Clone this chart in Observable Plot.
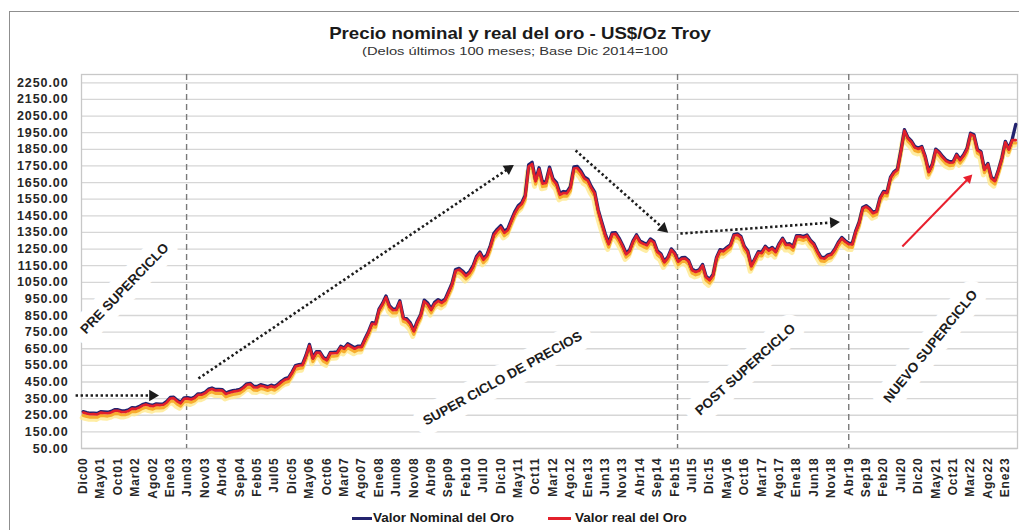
<!DOCTYPE html>
<html>
<head>
<meta charset="utf-8">
<script src="https://cdn.jsdelivr.net/npm/d3@7"></script>
<script src="https://cdn.jsdelivr.net/npm/@observablehq/plot@0.6"></script>
<style>
  body { margin: 0; background: #fff; }
  #wrap { position: relative; width: 1019px; height: 530px; overflow: hidden; background: #fff; font-family: "Liberation Sans", Arial, sans-serif; }
  .frame { position: absolute; left: 9px; top: 11px; width: 1040px; height: 560px; border: 1.5px solid #8f8f8f; }
  .title { position: absolute; left: 520px; top: 23px; transform: translateX(-50%) scaleX(1.08); white-space: nowrap; font-weight: bold; font-size: 17.3px; color: #1a1a1a; }
  .sub { position: absolute; left: 515px; top: 45px; transform: translateX(-50%) scaleX(1.4); white-space: nowrap; font-size: 10.5px; color: #333; }
  #chart { position: absolute; left: 0; top: 0; }
  #chart svg [aria-label^="y-axis"] text { font-family: "Liberation Sans", Arial, sans-serif; font-weight: bold; font-size: 12.5px; letter-spacing: 0.9px; fill: #262626; }
  #chart svg [aria-label^="x-axis"] text { font-family: "Liberation Sans", Arial, sans-serif; font-weight: bold; font-size: 12px; letter-spacing: 0.9px; fill: #262626; }
  .lg { position: absolute; top: 510px; font-weight: bold; font-size: 13.5px; color: #1a1a1a; white-space: nowrap; }
  .sw { position: absolute; top: 517px; height: 2.5px; }
</style>
</head>
<body>
<div id="wrap">
  <div class="frame"></div>
  <div class="title">Precio nominal y real del oro - US$/Oz Troy</div>
  <div class="sub">(Delos últimos 100 meses; Base Dic 2014=100</div>
  <div id="chart"></div>
  <div class="sw" style="left:352px;width:20px;background:#23236e"></div>
  <div class="lg" style="left:373px">Valor Nominal del Oro</div>
  <div class="sw" style="left:548px;width:23px;background:#e3202b"></div>
  <div class="lg" style="left:575px">Valor real del Oro</div>
</div>
<script>
// Months Dic00 .. Abr23 (index 0 = Dic00)
const nominal = [
  272,
  266,262,263,261,272,270,268,273,283,283,276,276,
  282,296,294,302,314,321,314,310,319,317,319,333,
  357,359,340,328,355,356,351,360,379,379,389,407,
  414,405,406,404,384,392,398,401,406,420,439,442,
  424,423,434,429,422,431,424,438,456,470,476,510,
  549,555,557,610,676,596,633,632,598,586,628,629,
  631,665,655,680,668,656,666,666,712,754,807,803,
  889,923,968,910,889,890,939,839,830,806,761,816,
  858,943,925,890,929,946,934,949,996,1044,1127,1134,
  1118,1095,1114,1148,1205,1232,1193,1215,1271,1343,1370,1391,
  1356,1372,1424,1474,1510,1529,1573,1756,1772,1666,1739,1652,
  1656,1743,1674,1650,1585,1596,1594,1626,1744,1747,1721,1684,
  1671,1627,1593,1487,1414,1343,1286,1347,1349,1316,1275,1225,
  1244,1300,1336,1299,1288,1279,1311,1296,1239,1222,1176,1201,
  1251,1227,1179,1198,1199,1181,1128,1118,1125,1157,1086,1068,
  1097,1200,1246,1242,1260,1276,1337,1341,1326,1267,1238,1152,
  1192,1234,1231,1267,1246,1260,1237,1283,1315,1280,1282,1265,
  1331,1331,1325,1335,1303,1282,1238,1202,1198,1215,1221,1250,
  1291,1320,1300,1285,1283,1359,1413,1500,1511,1495,1471,1480,
  1560,1597,1592,1683,1715,1732,1846,1968,1922,1900,1866,1858,
  1867,1808,1718,1760,1851,1834,1807,1785,1775,1777,1821,1790,
  1817,1856,1947,1937,1849,1836,1732,1765,1681,1664,1726,1798,
  1898,1854,1912,2000
];
const real = [
  266,
  260,256,257,255,266,264,262,267,277,277,270,270,
  276,290,288,296,308,315,308,304,313,311,313,327,
  351,353,334,322,349,350,345,354,373,373,383,401,
  408,399,400,398,378,386,392,395,400,414,433,436,
  418,417,428,423,416,425,418,432,450,464,470,504,
  543,549,551,604,668,590,627,626,592,580,622,623,
  625,659,649,674,662,650,660,660,706,748,800,797,
  882,916,960,903,882,883,931,832,823,799,754,809,
  851,935,917,883,921,938,926,941,988,1036,1118,1126,
  1110,1087,1106,1140,1197,1224,1185,1207,1263,1334,1361,1382,
  1347,1363,1415,1465,1501,1520,1564,1746,1762,1657,1730,1643,
  1647,1733,1665,1641,1576,1587,1585,1617,1734,1737,1711,1675,
  1662,1618,1584,1479,1406,1335,1278,1339,1341,1308,1267,1218,
  1237,1293,1329,1292,1281,1272,1304,1289,1232,1215,1170,1195,
  1245,1221,1173,1192,1193,1175,1122,1112,1119,1151,1080,1062,
  1091,1194,1240,1236,1254,1270,1331,1335,1320,1261,1232,1146,
  1186,1228,1225,1261,1240,1254,1231,1277,1309,1274,1276,1259,
  1325,1325,1319,1329,1297,1276,1232,1196,1192,1209,1215,1244,
  1285,1314,1294,1279,1277,1353,1407,1494,1505,1489,1465,1474,
  1554,1591,1586,1677,1709,1726,1840,1962,1916,1894,1860,1852,
  1861,1802,1712,1754,1845,1828,1801,1779,1769,1771,1815,1784,
  1811,1850,1941,1931,1843,1830,1726,1759,1675,1658,1720,1792,
  1892,1848,1906,1905
];
const xLabels = ["Dic00","May01","Oct01","Mar02","Ago02","Ene03","Jun03","Nov03","Abr04","Sep04","Feb05","Jul05","Dic05","May06","Oct06","Mar07","Ago07","Ene08","Jun08","Nov08","Abr09","Sep09","Feb10","Jul10","Dic10","May11","Oct11","Mar12","Ago12","Ene13","Jun13","Nov13","Abr14","Sep14","Feb15","Jul15","Dic15","May16","Oct16","Mar17","Ago17","Ene18","Jun18","Nov18","Abr19","Sep19","Feb20","Jul20","Dic20","May21","Oct21","Mar22","Ago22","Ene23"];
const yTicks = [50,150,250,350,450,550,650,750,850,950,1050,1150,1250,1350,1450,1550,1650,1750,1850,1950,2050,2150,2250];
const periodBreaks = [29.7, 170.8, 220];
const notes = [
  {x: 11.9, y: 1012, text: "PRE SUPERCICLO", rotate: -46},
  {x: 120.5, y: 471, text: "SUPER CICLO DE PRECIOS", rotate: -29},
  {x: 190.3, y: 525, text: "POST SUPERCICLO", rotate: -42},
  {x: 243.5, y: 664, text: "NUEVO SUPERCICLO", rotate: -51}
];
const dottedArrows = [
  {x1: -2.2, y1: 369, x2: 19.9, y2: 369},
  {x1: 33.1, y1: 471, x2: 122.2, y2: 1734},
  {x1: 141.5, y1: 1843, x2: 166.7, y2: 1374},
  {x1: 171.6, y1: 1343, x2: 215.6, y2: 1410}
];
const redArrows = [
  {x1: 235.4, y1: 1265, x2: 254.4, y2: 1674}
];

const xDomain = [-0.5, 268.5], yDomain = [50, 2300];
const W = 1019, H = 530, mL = 81, mR = 2, mT = 74, mB = 82;
const xs = d3.scaleLinear(xDomain, [mL, W - mR]);
const ys = d3.scaleLinear(yDomain, [H - mB, mT]);
const angle = d => Math.atan2(xs(d.x2) - xs(d.x1), -(ys(d.y2) - ys(d.y1))) * 180 / Math.PI;

const series = nominal.map((v, i) => ({i, nominal: v, real: real[i]}));
const xTicks = xLabels.map((_, k) => k * 5);

const chart = Plot.plot({
  width: W, height: H,
  marginLeft: mL, marginRight: mR, marginTop: mT, marginBottom: mB,
  style: {background: "transparent", fontFamily: "Liberation Sans, Arial, sans-serif"},
  x: {type: "linear", domain: xDomain, ticks: xTicks, tickFormat: i => xLabels[Math.round(i / 5)], tickRotate: -90, tickSize: 0, tickPadding: 9, label: null},
  y: {domain: yDomain, ticks: yTicks, tickFormat: d3.format(".2f"), tickSize: 0, tickPadding: 13, label: null},
  marks: [
    Plot.ruleY(yTicks, {stroke: "#d6d6d6", strokeWidth: 1.3}),
    Plot.frame({stroke: "#c8c8c8", strokeWidth: 1.3}),
    Plot.text(notes, {x: "x", y: "y", text: "text", rotate: "rotate", fill: "#1c1c1c", stroke: "white", strokeWidth: 20, fontWeight: "bold", fontSize: 13.5}),
    Plot.ruleX(periodBreaks, {stroke: "#7a7a7a", strokeWidth: 1.4, strokeDasharray: "6,4"}),
    Plot.line(series, {x: "i", y: "real", stroke: "#ffe98c", strokeWidth: 5, dy: 5, dx: -1, strokeOpacity: 0.8}),
    Plot.line(series, {x: "i", y: "real", stroke: "#f7a928", strokeWidth: 3.2, dy: 2.8, strokeOpacity: 0.95}),
    Plot.line(series, {x: "i", y: "nominal", stroke: "#23236e", strokeWidth: 3.3}),
    Plot.line(series, {x: "i", y: "real", stroke: "#e3202b", strokeWidth: 2.6}),
    Plot.link(dottedArrows, {x1: "x1", y1: "y1", x2: "x2", y2: "y2", stroke: "#1c1c1c", strokeWidth: 2.6, strokeDasharray: "2.4,2.6"}),
    Plot.dot(dottedArrows, {x: "x2", y: "y2", symbol: "triangle", rotate: angle, r: 4.2, fill: "#1c1c1c", stroke: "none"}),
    Plot.link(redArrows, {x1: "x1", y1: "y1", x2: "x2", y2: "y2", stroke: "#e8202e", strokeWidth: 2}),
    Plot.dot(redArrows, {x: "x2", y: "y2", symbol: "triangle", rotate: angle, r: 3.6, fill: "#e8202e", stroke: "none"})
  ]
});
document.getElementById("chart").appendChild(chart);
</script>
</body>
</html>
